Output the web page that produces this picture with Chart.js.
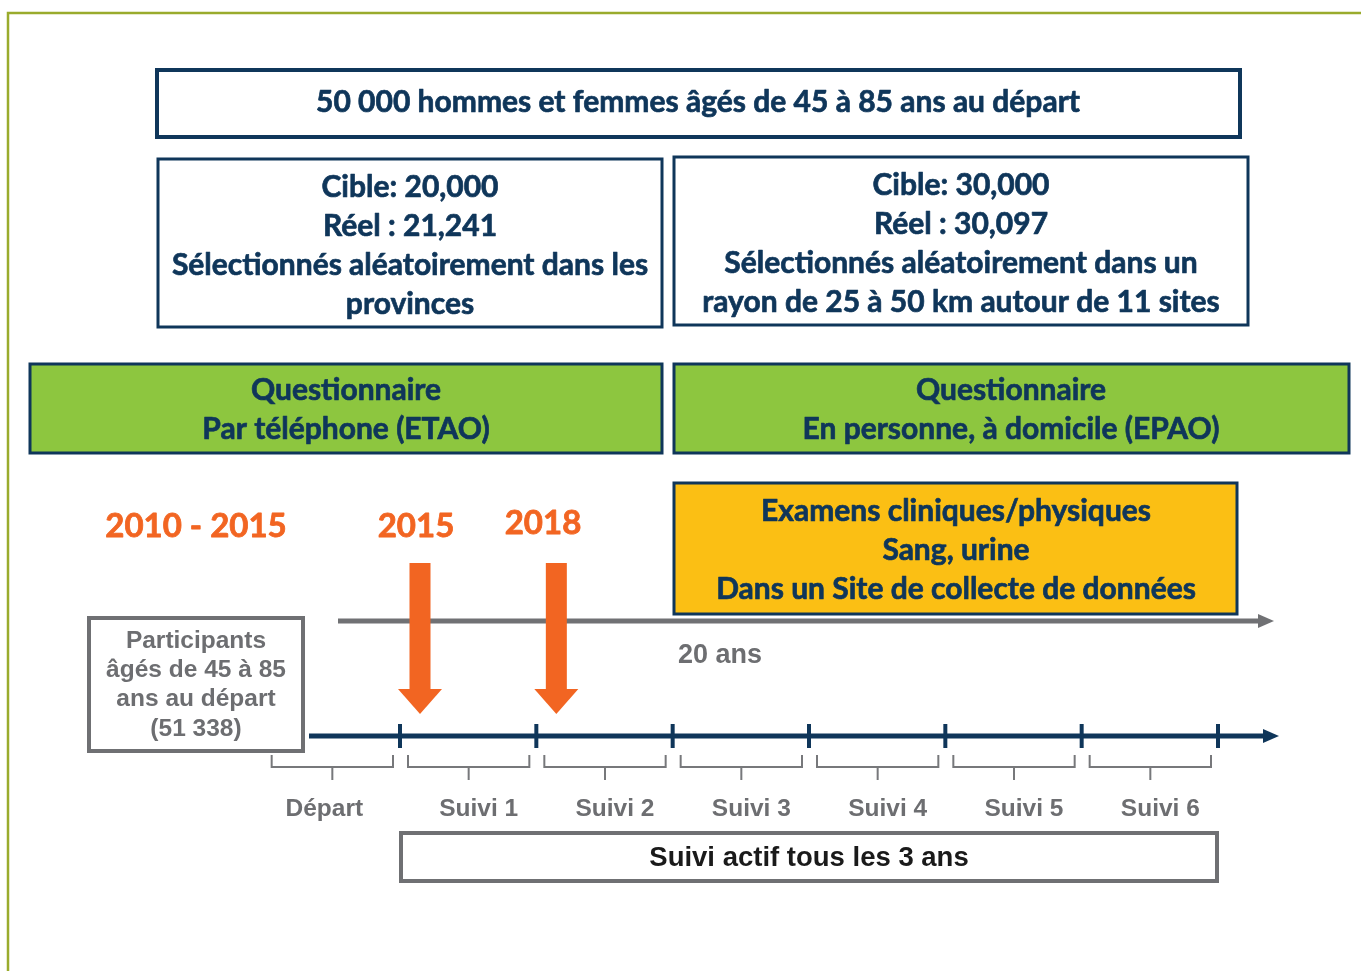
<!DOCTYPE html>
<html>
<head>
<meta charset="utf-8">
<script src="https://cdn.jsdelivr.net/npm/chart.js@4.4.1/dist/chart.umd.min.js"></script>
<style>
  body { margin: 0; background: #fff; }
  canvas { display: block; }
</style>
</head>
<body>
<canvas id="studyChart" width="1361" height="971"></canvas>
<script>
// study design values
const cohortTitle = '50 000 hommes et femmes âgés de 45 à 85 ans au départ'
const armTargets = [20000, 30000]
const armActuals = [21241, 30097]
const armDescriptions = [
  ['Sélectionnés aléatoirement dans les', 'provinces'],
  ['Sélectionnés aléatoirement dans un', 'rayon de 25 à 50 km autour de 11 sites'],
]
const questionnaireModes = [
  ['Questionnaire', 'Par téléphone (ETAO)'],
  ['Questionnaire', 'En personne, à domicile (EPAO)'],
]
const examLines = ['Examens cliniques/physiques', 'Sang, urine', 'Dans un Site de collecte de données']
const periodLabels = ['2010 - 2015', '2015', '2018']
const waveYears = [2015, 2018, 2021, 2024, 2027, 2030, 2033]
const phaseNames = ['Départ', 'Suivi 1', 'Suivi 2', 'Suivi 3', 'Suivi 4', 'Suivi 5', 'Suivi 6']
const arrowYears = [2015, 2018]
const baselineCount = '51 338'
const studyYears = 20
const followUpEvery = 3

const W = 1361, H = 971
const navy = '#0f365a'
const grey = '#6d6e71'
const orange = '#f26522'
const calibri = 'Lato, "Open Sans", sans-serif'
const arial = '"Liberation Sans", Arial, sans-serif'

// where the timeline ticks land on the page
const firstWavePx = 400, lastWavePx = 1218
const pxPerYear = (lastWavePx - firstWavePx) / (waveYears[waveYears.length - 1] - waveYears[0])
const yrMin = waveYears[0] - firstWavePx / pxPerYear
const yrMax = waveYears[0] + (W - firstWavePx) / pxPerYear
const timelineY = 736

function fmt(n) { return n.toLocaleString('en-US') }

function box(ctx, x0, y0, x1, y1, fill, stroke, lw) {
  ctx.save()
  if (fill) { ctx.fillStyle = fill; ctx.fillRect(x0, y0, x1 - x0, y1 - y0) }
  ctx.strokeStyle = stroke
  ctx.lineWidth = lw
  ctx.strokeRect(x0, y0, x1 - x0, y1 - y0)
  ctx.restore()
}

function lines(ctx, texts, cx, ys, font, color, heavy) {
  ctx.save()
  ctx.font = font
  ctx.fillStyle = color
  ctx.strokeStyle = color
  ctx.lineWidth = heavy || 0
  ctx.lineJoin = 'round'
  ctx.textAlign = 'center'
  ctx.textBaseline = 'middle'
  texts.forEach((t, i) => {
    ctx.fillText(t, cx, ys[i])
    if (heavy) ctx.strokeText(t, cx, ys[i])
  })
  ctx.restore()
}

function arrowLine(ctx, x0, x1, y, color, lw, head) {
  ctx.save()
  ctx.strokeStyle = color
  ctx.fillStyle = color
  ctx.lineWidth = lw
  ctx.beginPath()
  ctx.moveTo(x0, y)
  ctx.lineTo(x1 - head, y)
  ctx.stroke()
  ctx.beginPath()
  ctx.moveTo(x1 - head - 1, y - 7)
  ctx.lineTo(x1, y)
  ctx.lineTo(x1 - head - 1, y + 7)
  ctx.closePath()
  ctx.fill()
  ctx.restore()
}

const diagramPlugin = {
  id: 'diagram',
  beforeDatasetsDraw(chart) {
    const ctx = chart.ctx
    const sx = chart.scales.x, sy = chart.scales.y, yr = chart.scales.yr
    const X = v => sx.getPixelForValue(v)
    const Y = v => sy.getPixelForValue(v)
    const boxFont = `bold 30px ${calibri}`

    // frame
    ctx.save()
    ctx.strokeStyle = '#9aab2c'
    ctx.lineWidth = 2.5
    ctx.beginPath()
    ctx.moveTo(X(8), Y(H))
    ctx.lineTo(X(8), Y(13))
    ctx.lineTo(X(W), Y(13))
    ctx.stroke()
    ctx.restore()

    // cohort
    box(ctx, X(157), Y(70), X(1240), Y(137), '#fff', navy, 4)
    lines(ctx, [cohortTitle], X(698), [Y(102)], boxFont, navy, 0.7)

    // two arms
    const arms = [[158, 159, 662, 327, 410], [674, 157, 1248, 325, 961]]
    arms.forEach(([x0, y0, x1, y1, cx], i) => {
      box(ctx, X(x0), Y(y0), X(x1), Y(y1), '#fff', navy, 3)
      const t = ['Cible: ' + fmt(armTargets[i]), 'Réel : ' + fmt(armActuals[i])].concat(armDescriptions[i])
      lines(ctx, t, X(cx), [y0 + 28, y0 + 67, y0 + 106, y0 + 145].map(Y), boxFont, navy, 0.7)
    })

    // questionnaires
    const modes = [[30, 662, 346], [674, 1349, 1011]]
    modes.forEach(([x0, x1, cx], i) => {
      box(ctx, X(x0), Y(364), X(x1), Y(453), '#8dc63f', navy, 3)
      lines(ctx, questionnaireModes[i], X(cx), [Y(390), Y(429)], boxFont, navy, 0.7)
    })

    // exams
    box(ctx, X(674), Y(483), X(1237), Y(614), '#fbbf14', navy, 3)
    lines(ctx, examLines, X(956), [511, 550, 589].map(Y), boxFont, navy, 0.7)

    // period labels
    const periodPos = [[196, 526], [416, 526], [543, 523]]
    periodLabels.forEach((t, i) => {
      lines(ctx, [t], X(periodPos[i][0]), [Y(periodPos[i][1])], `bold 33px ${calibri}`, orange, 0.8)
    })

    // 20 years arrow
    arrowLine(ctx, X(338), X(1274), Y(621), '#707174', 5, 15)
    ctx.save()
    ctx.font = `bold 27px ${arial}`
    ctx.fillStyle = grey
    ctx.textBaseline = 'middle'
    ctx.fillText(studyYears + ' ans', X(678), Y(656))
    ctx.restore()

    // participants
    box(ctx, X(89), Y(618), X(303), Y(751), '#fff', '#6f7073', 4)
    lines(ctx, ['Participants', 'âgés de 45 à 85', 'ans au départ', '(' + baselineCount + ')'],
      X(196), [641, 670, 699, 729].map(Y), `bold 24.5px ${arial}`, grey)

    // timeline
    arrowLine(ctx, X(309), X(1279), Y(timelineY), navy, 5, 15)

    // braces + phase names
    ctx.save()
    ctx.strokeStyle = '#77787b'
    ctx.lineWidth = 2
    phaseNames.forEach((name, i) => {
      const a = yr.getPixelForValue(waveYears[i] - followUpEvery) + 8
      const b = yr.getPixelForValue(waveYears[i]) - 7
      const m = (a + b) / 2
      ctx.beginPath()
      ctx.moveTo(a, Y(755))
      ctx.lineTo(a, Y(767))
      ctx.lineTo(b, Y(767))
      ctx.lineTo(b, Y(755))
      ctx.moveTo(m, Y(767))
      ctx.lineTo(m, Y(780))
      ctx.stroke()
      const dx = i === 0 ? -8 : 10
      lines(ctx, [name], m + dx, [Y(809)], `bold 24.5px ${arial}`, grey)
    })
    ctx.restore()

    // orange arrows
    ctx.save()
    ctx.fillStyle = orange
    arrowYears.forEach(y => {
      const c = yr.getPixelForValue(y) + 20
      ctx.fillRect(c - 10.5, Y(563), 21, Y(689) - Y(563))
      ctx.beginPath()
      ctx.moveTo(c - 22, Y(689))
      ctx.lineTo(c + 22, Y(689))
      ctx.lineTo(c, Y(714))
      ctx.closePath()
      ctx.fill()
    })
    ctx.restore()

    // active follow-up
    box(ctx, X(401), Y(833), X(1217), Y(881), '#fff', '#6f7073', 4)
    lines(ctx, ['Suivi actif tous les ' + followUpEvery + ' ans'], X(809), [Y(858)], `bold 27.5px ${arial}`, '#1a1a1a')
  }
}

new Chart(document.getElementById('studyChart'), {
  type: 'scatter',
  data: {
    datasets: [{
      label: 'Vagues',
      data: waveYears.map(y => ({ x: y, y: timelineY })),
      xAxisID: 'yr',
      yAxisID: 'y',
      pointStyle: 'line',
      rotation: 90,
      radius: 12,
      hoverRadius: 12,
      borderWidth: 4,
      borderColor: navy,
    }]
  },
  options: {
    responsive: false,
    animation: false,
    devicePixelRatio: 1,
    layout: { padding: 0, autoPadding: false },
    plugins: { legend: { display: false }, tooltip: { enabled: false } },
    events: [],
    scales: {
      x: { type: 'linear', min: 0, max: W, display: false },
      yr: { type: 'linear', axis: 'x', min: yrMin, max: yrMax, display: false },
      y: { type: 'linear', min: 0, max: H, reverse: true, display: false },
    }
  },
  plugins: [diagramPlugin]
})
</script>
</body>
</html>
